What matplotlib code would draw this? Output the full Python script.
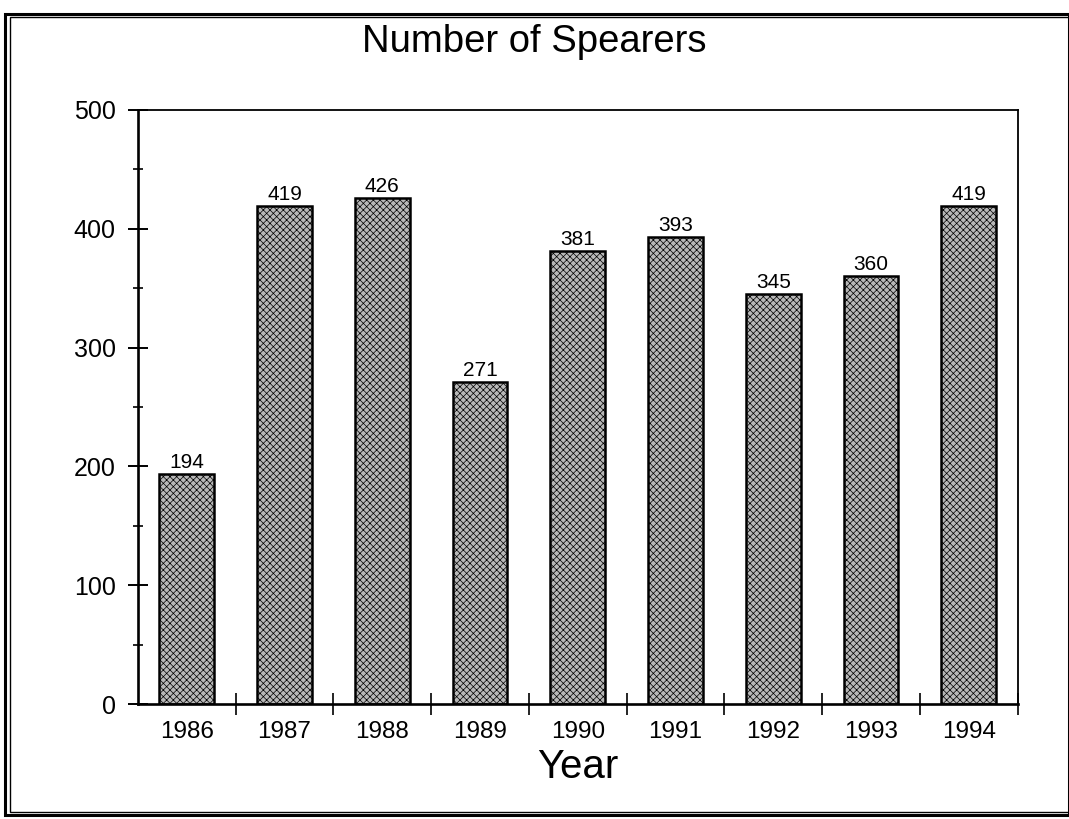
import matplotlib.pyplot as plt
from matplotlib.patches import Rectangle
from matplotlib.ticker import MultipleLocator

years = ['1986', '1987', '1988', '1989', '1990', '1991', '1992', '1993', '1994']
spearers = [194, 419, 426, 271, 381, 393, 345, 360, 419]

plt.rcParams['font.family'] = ['Liberation Sans', 'DejaVu Sans']
plt.rcParams['hatch.color'] = '#5a5a5a'
plt.rcParams['hatch.linewidth'] = 0.5

fig = plt.figure(figsize=(10.69, 8.19), dpi=100)
ax = fig.add_axes([0.129, 0.1404, 0.823, 0.7253])

x = list(range(len(years)))
bars = ax.bar(x, spearers, width=0.56, color='#b8b8b8', edgecolor='black',
              linewidth=1.8, hatch='xxxxx')

for xi, v in zip(x, spearers):
    ax.text(xi, v + 5, str(v), ha='center', va='baseline', fontsize=15)

ax.set_xlim(-0.5, len(years) - 0.5)
ax.set_ylim(0, 500)
ax.yaxis.set_major_locator(MultipleLocator(100))
ax.yaxis.set_minor_locator(MultipleLocator(50))
ax.tick_params(axis='y', which='major', direction='inout', length=14, width=1.4,
               labelsize=18, pad=9)
ax.tick_params(axis='y', which='minor', direction='inout', length=7, width=1.2)

# category boundaries as ticks, labels sit under the bars
ax.set_xticks([i + 0.5 for i in x])
ax.set_xticklabels([])
ax.set_xticks(x, minor=True)
ax.set_xticklabels(years, minor=True)
ax.tick_params(axis='x', which='major', direction='inout', length=16, width=1.2)
ax.tick_params(axis='x', which='minor', length=0, labelsize=17.5, pad=12)

for side in ['left', 'bottom']:
    ax.spines[side].set_linewidth(1.9)
for side in ['top', 'right']:
    ax.spines[side].set_linewidth(1.3)

ax.set_xlabel('Year', fontsize=29)
ax.xaxis.label.set_va('baseline')
ax.xaxis.set_label_coords(0.5, -0.1246)
fig.text(0.5, 0.9365, 'Number of Spearers', ha='center', va='baseline', fontsize=27.5)

# double frame around the whole chart
fig.patches.append(Rectangle((0.005, 0.005), 0.995, 0.978, transform=fig.transFigure,
                             fill=False, edgecolor='black', linewidth=2.2))
fig.patches.append(Rectangle((0.009, 0.009), 0.991, 0.970, transform=fig.transFigure,
                             fill=False, edgecolor='black', linewidth=1.0))

fig.savefig('out.png', dpi=100)
